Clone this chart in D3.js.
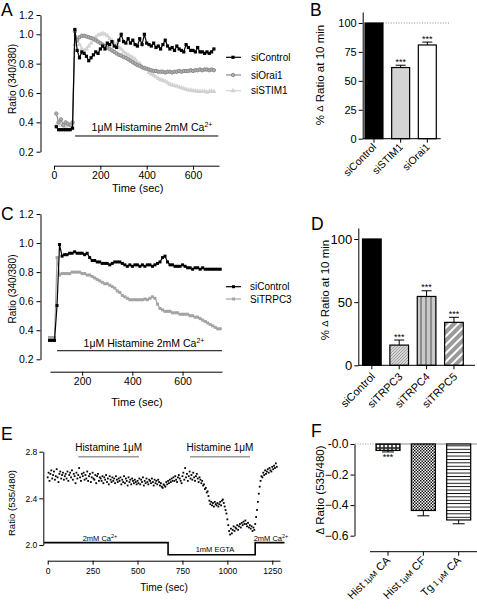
<!DOCTYPE html>
<html><head><meta charset="utf-8">
<script src="https://cdn.jsdelivr.net/npm/d3@7"></script>
<style>
body{margin:0;background:#fff}
svg{display:block}
text{font-family:"Liberation Sans",Arial,Helvetica,sans-serif;fill:#000}
</style>
</head><body>
<svg id="c" width="477" height="610"></svg>
<script>
// ---------------- DATA ----------------
// Panel A: Ratio (340/380) traces, sampled every 10 s from t = 10 s
const timeA_start = 10, timeA_step = 10;
const aControl = [0.37,0.35,0.35,0.35,0.35,0.35,0.35,0.36,1.05,0.89,0.84,0.88,0.87,0.85,0.82,0.84,0.86,0.88,0.87,0.90,0.92,0.90,0.94,0.93,0.95,0.92,0.91,0.96,1.00,0.95,0.94,0.97,0.94,0.96,0.93,0.92,0.97,0.93,1.00,0.94,0.93,0.92,0.94,0.91,0.92,0.90,0.93,0.96,0.92,0.90,0.91,0.89,0.92,0.90,0.89,0.88,0.93,0.91,0.89,0.89,0.88,0.91,0.88,0.88,0.87,0.88,0.87,0.88,0.90];
const aOrai1 = [0.46,0.40,0.42,0.38,0.40,0.39,0.38,0.40,1.03,0.96,0.98,0.99,0.99,0.985,0.98,0.975,0.97,0.96,0.95,0.94,0.93,0.92,0.91,0.90,0.89,0.88,0.87,0.86,0.855,0.845,0.84,0.83,0.82,0.81,0.80,0.79,0.785,0.775,0.77,0.765,0.76,0.755,0.75,0.75,0.745,0.745,0.745,0.74,0.745,0.745,0.74,0.745,0.745,0.75,0.745,0.75,0.75,0.75,0.755,0.75,0.755,0.755,0.76,0.755,0.76,0.76,0.755,0.76,0.755];
const aSTIM1 = [0.38,0.39,0.38,0.38,0.37,0.38,0.38,0.39,0.93,0.95,0.93,0.90,0.89,0.90,0.92,0.94,0.96,0.98,0.995,1.00,1.01,1.00,0.99,0.97,0.96,0.94,0.93,0.91,0.90,0.88,0.87,0.86,0.85,0.84,0.83,0.81,0.80,0.78,0.77,0.76,0.74,0.73,0.72,0.71,0.70,0.69,0.685,0.68,0.67,0.66,0.655,0.65,0.645,0.64,0.635,0.63,0.625,0.62,0.62,0.615,0.615,0.61,0.61,0.61,0.61,0.605,0.61,0.61,0.61];
const aSeriesNames = ["siControl","siOrai1","siSTIM1"];
const aXTicks = [0,200,400,600];
const aYTicks = [0.2,0.4,0.6,0.8,1.0,1.2];

// Panel B
const bCategories = ["siControl","siSTIM1","siOrai1"];
const bValues = [100,61.5,81];
const bErrors = [0,2,2.5];
const bSig = ["","***","***"];
const bYTicks = [0,25,50,75,100];

// Panel C: sampled every 10 s from t = 70 s
const timeC_start = 70, timeC_step = 10;
const cControl = [0.33,0.33,0.33,0.57,0.99,0.91,0.92,0.92,0.93,0.93,0.94,0.93,0.93,0.93,0.92,0.93,0.90,0.88,0.88,0.87,0.87,0.86,0.86,0.86,0.85,0.86,0.87,0.87,0.87,0.86,0.85,0.84,0.85,0.84,0.85,0.85,0.84,0.85,0.84,0.85,0.85,0.84,0.85,0.86,0.87,0.90,0.91,0.87,0.85,0.85,0.84,0.84,0.84,0.85,0.84,0.83,0.83,0.82,0.83,0.83,0.82,0.83,0.82,0.82,0.82,0.82,0.82,0.82,0.82];
const cTRPC3 = [0.35,0.35,0.35,0.90,0.78,0.79,0.79,0.79,0.79,0.80,0.80,0.80,0.80,0.79,0.79,0.78,0.78,0.77,0.76,0.75,0.74,0.73,0.72,0.72,0.71,0.70,0.69,0.67,0.66,0.64,0.63,0.62,0.61,0.61,0.61,0.61,0.61,0.61,0.615,0.61,0.62,0.63,0.62,0.58,0.55,0.54,0.53,0.53,0.53,0.52,0.52,0.52,0.51,0.51,0.51,0.51,0.50,0.50,0.49,0.49,0.48,0.47,0.46,0.45,0.44,0.43,0.42,0.41,0.41];
const cSeriesNames = ["siControl","SiTRPC3"];
const cXTicks = [200,400,600];
const cYTicks = [0.2,0.4,0.6,0.8,1.0,1.2];

// Panel D
const dCategories = ["siControl","siTRPC3","siTRPC4","siTRPC5"];
const dValues = [100,16,54.5,34];
const dErrors = [0,4,4.5,4];
const dSig = ["","***","***","***"];
const dYTicks = [0,50,100];

// Panel E: FRET ratio, sampled every 5 s from t = 0 s
const timeE_start = 0, timeE_step = 5;
const eRatio = [
2.58,2.62,2.55,2.61,2.64,2.57,2.60,2.63,2.56,2.59,2.65,2.58,2.54,2.61,2.63,2.57,2.60,2.62,2.56,2.59,
2.61,2.57,2.63,2.55,2.60,2.62,2.58,2.64,2.56,2.61,2.59,2.53,2.62,2.57,2.60,2.66,2.58,2.55,2.61,2.59,
2.62,2.56,2.60,2.57,2.63,2.55,2.59,2.61,2.54,2.58,2.62,2.57,2.56,2.60,2.53,2.59,2.61,2.55,2.58,2.57,
2.55,2.59,2.53,2.58,2.56,2.60,2.54,2.57,2.52,2.59,2.56,2.54,2.58,2.55,2.57,2.53,2.59,2.56,2.54,2.57,
2.55,2.58,2.52,2.56,2.54,2.59,2.53,2.57,2.55,2.51,2.58,2.54,2.56,2.52,2.57,2.55,2.53,2.56,2.54,2.52,
2.55,2.53,2.57,2.52,2.56,2.54,2.58,2.51,2.55,2.53,2.57,2.54,2.52,2.56,2.55,2.53,2.57,2.54,2.51,2.56,
2.53,2.55,2.52,2.56,2.54,2.51,2.53,2.50,2.49,2.52,2.51,2.50,2.54,2.52,2.55,2.53,2.56,2.54,2.57,2.55,
2.58,2.55,2.59,2.56,2.54,2.58,2.60,2.57,2.55,2.53,2.59,2.62,2.56,2.66,2.58,2.61,2.55,2.59,2.63,2.57,
2.60,2.56,2.62,2.58,2.55,2.59,2.61,2.57,2.54,2.58,2.56,2.53,2.55,2.51,2.52,2.48,2.49,2.45,2.46,2.42,
2.38,2.35,2.37,2.34,2.36,2.33,2.37,2.35,2.34,2.36,2.33,2.35,2.37,2.34,2.38,2.39,2.36,2.33,2.30,2.27,
2.22,2.17,2.12,2.09,2.14,2.10,2.13,2.16,2.12,2.15,2.14,2.17,2.13,2.16,2.18,2.15,2.19,2.17,2.20,2.18,
2.21,2.18,2.16,2.19,2.15,2.17,2.14,2.16,2.12,2.15,2.13,2.18,2.24,2.30,2.37,2.44,2.50,2.55,2.59,2.58,
2.62,2.60,2.64,2.61,2.63,2.65,2.62,2.66,2.64,2.63,2.67,2.65,2.68,2.66,2.70,2.67];
const eXTicks = [0,250,500,750,1000,1250];
const eYTicks = [2.0,2.4,2.8];
const eHistamine = [[170,508],[792,1126]];
const eCondTimes = [-20,670,1155,1318];
const eCondLevels = [2.02,1.917,2.02,2.02];

// Panel F
const fCategories = ["Hist 1μM CA","Hist 1μM CF","Tg 1 μM CA"];
const fValues = [-0.042,-0.435,-0.497];
const fErrors = [0.01,0.035,0.025];
const fSig = ["***","",""];
const fYTicks = [0,-0.2,-0.4,-0.6];

// ---------------- DRAW ----------------
const FONT = '"Liberation Sans",Arial,Helvetica,sans-serif';
const svg = d3.select("#c");
const defs = svg.append("defs");

function pat(id,w,h,build,transform){
  const p = defs.append("pattern").attr("id",id).attr("patternUnits","userSpaceOnUse").attr("width",w).attr("height",h);
  if(transform) p.attr("patternTransform",transform);
  build(p);
}
pat("pT3",3,3,p=>{p.append("rect").attr("width",3).attr("height",3).attr("fill","#d6d6d6");
  p.append("path").attr("d","M0,3L3,0").attr("stroke","#8a8a8a").attr("stroke-width",0.7);});
pat("pT4",5,5,p=>{p.append("rect").attr("width",5).attr("height",5).attr("fill","#c9c9c9");
  p.append("rect").attr("width",2).attr("height",5).attr("fill","#8c8c8c");});
pat("pT5",6,6,p=>{p.append("rect").attr("width",6).attr("height",6).attr("fill","#9a9a9a");
  p.append("rect").attr("width",2).attr("height",6).attr("fill","#fff");},"rotate(45)");
pat("pFA",4,4,p=>{p.append("rect").attr("width",4).attr("height",4).attr("fill","#333");
  p.append("circle").attr("cx",2).attr("cy",2).attr("r",1.3).attr("fill","#fff");});
pat("pFB",3,3,p=>{p.append("rect").attr("width",3).attr("height",3).attr("fill","#fff");
  p.append("rect").attr("width",1.5).attr("height",1.5).attr("fill","#111");
  p.append("rect").attr("x",1.5).attr("y",1.5).attr("width",1.5).attr("height",1.5).attr("fill","#111");});
pat("pFC",4,3.4,p=>{p.append("rect").attr("width",4).attr("height",3.4).attr("fill","#fff");
  p.append("rect").attr("width",4).attr("height",0.9).attr("fill","#000");});

function styleAxis(g,fs){
  g.attr("font-size",fs).attr("font-family",FONT);
  g.selectAll("path,line").attr("stroke","#000").attr("stroke-width",1);
  g.selectAll("text").attr("fill","#000");
  return g;
}
function txt(x,y,s,fs,anchor){
  return svg.append("text").attr("x",x).attr("y",y).attr("font-size",fs).attr("text-anchor",anchor||"start").text(s);
}
function vtxt(cx,cy,s,fs){
  return svg.append("text").attr("transform",`translate(${cx},${cy}) rotate(-90)`).attr("font-size",fs).attr("text-anchor","middle").attr("dy","0.35em").text(s);
}
function caText(x,y,fs,anchor){
  return svg.append("text").attr("x",x).attr("y",y).attr("font-size",fs).attr("text-anchor",anchor||"middle");
}

// Panel letters
[["A",1,15.5],["B",310,16],["C",1,220],["D",311,230],["E",1,440],["F",311,437]].forEach(d=>txt(d[1],d[2],d[0],17.5));

// ---------- Panel A ----------
const xA = d3.scaleLinear().domain([0,712]).range([54,219]);
const yA = d3.scaleLinear().domain([0.2,1.0,1.2]).range([151.7,34.3,15]);
const tA = aControl.map((d,i)=>timeA_start+i*timeA_step);
styleAxis(svg.append("g").attr("transform","translate(40.5,0)")
  .call(d3.axisLeft(yA).tickValues(aYTicks).tickSize(4).tickSizeOuter(0).tickPadding(3).tickFormat(d3.format(".1f"))),10.5);
styleAxis(svg.append("g").attr("transform","translate(0,165.7)")
  .call(d3.axisBottom(xA).tickValues(aXTicks).tickSize(4).tickSizeOuter(0).tickPadding(2)),10.5);
vtxt(12,79,"Ratio (340/380)",10.2);
txt(137.7,192,"Time (sec)",11,"middle");

function drawMarker(g,x,y,color,marker){
  if(marker==="square") g.append("rect").attr("x",x-1.6).attr("y",y-1.6).attr("width",3.2).attr("height",3.2).attr("fill",color);
  else if(marker==="circle") g.append("circle").attr("cx",x).attr("cy",y).attr("r",1.7).attr("fill","#b0b0b0").attr("stroke",color).attr("stroke-width",1);
  else g.append("path").attr("transform",`translate(${x},${y})`).attr("d",d3.symbol(d3.symbolTriangle).size(11)()).attr("fill",color);
}
function traceA(vals,times,xs,ys,color,marker,g){
  const line = d3.line().x((d,i)=>xs(times[i])).y(d=>ys(d));
  g.append("path").attr("d",line(vals)).attr("fill","none").attr("stroke",color).attr("stroke-width",1.2);
  vals.forEach((v,i)=>drawMarker(g,xs(times[i]),ys(v),color,marker));
}
const gA = svg.append("g");
const aColors = {siControl:"#000",siOrai1:"#8a8a8a",siSTIM1:"#d2d2d2"};
const aMarkers = {siControl:"square",siOrai1:"circle",siSTIM1:"triangle"};
traceA(aSTIM1,tA,xA,yA,aColors.siSTIM1,"triangle",gA);
traceA(aOrai1,tA,xA,yA,aColors.siOrai1,"circle",gA);
traceA(aControl,tA,xA,yA,aColors.siControl,"square",gA);
aSeriesNames.forEach((n,i)=>{
  const y=[57.3,75,90.7][i];
  svg.append("line").attr("x1",226).attr("x2",241).attr("y1",y).attr("y2",y).attr("stroke",aColors[n]).attr("stroke-width",1.2);
  drawMarker(svg,233,y,aColors[n],aMarkers[n]);
  txt(251,y,n,10).attr("dy","0.35em");
});
svg.append("line").attr("x1",xA(91)).attr("x2",xA(709)).attr("y1",yA(0.307)).attr("y2",yA(0.307)).attr("stroke","#000");
{const t=caText(152,131,10.5); t.append("tspan").text("1μM Histamine 2mM Ca"); t.append("tspan").attr("font-size",7).attr("dy",-4).text("2+");}

// ---------- Panel B ----------
const xB = d3.scaleBand().domain(bCategories).range([365,436.3]).paddingInner(0.326).paddingOuter(0);
const yB = d3.scaleLinear().domain([0,109.5]).range([138.7,12]);
styleAxis(svg.append("g").attr("transform","translate(362.7,0)")
  .call(d3.axisLeft(yB).tickValues(bYTicks).tickSize(4).tickSizeOuter(0).tickPadding(2)),11);
const bFill = {siControl:"#000",siSTIM1:"#d4d4d4",siOrai1:"#fff"};
svg.append("line").attr("x1",xB("siControl")+xB.bandwidth()).attr("x2",450).attr("y1",yB(100)).attr("y2",yB(100))
  .attr("stroke","#888").attr("stroke-dasharray","1,1.6");
bCategories.forEach((c,i)=>{
  const x=xB(c), w=xB.bandwidth(), cx=x+w/2;
  svg.append("rect").attr("x",x).attr("y",yB(bValues[i])).attr("width",w).attr("height",yB(0)-yB(bValues[i]))
    .attr("fill",bFill[c]).attr("stroke","#000").attr("stroke-width",1.2);
  if(bErrors[i]>0){
    const yt=yB(bValues[i]+bErrors[i]);
    svg.append("line").attr("x1",cx).attr("x2",cx).attr("y1",yB(bValues[i])).attr("y2",yt).attr("stroke","#000");
    svg.append("line").attr("x1",cx-5).attr("x2",cx+5).attr("y1",yt).attr("y2",yt).attr("stroke","#000");
    txt(cx,yt-5,bSig[i],9,"middle").attr("dy","0.5em");
  }
  svg.append("line").attr("x1",cx).attr("x2",cx).attr("y1",yB(0)).attr("y2",yB(0)+4).attr("stroke","#000");
  svg.append("text").attr("transform",`translate(${cx+3},${yB(0)+9}) rotate(-45)`).attr("text-anchor","end").attr("font-size",10.5).text(c);
});
svg.append("line").attr("x1",362.7).attr("x2",440.7).attr("y1",yB(0)).attr("y2",yB(0)).attr("stroke","#000");
{const t=svg.append("text").attr("transform","translate(320,75) rotate(-90)").attr("text-anchor","middle").attr("dy","0.35em").attr("font-size",11.5);
 t.append("tspan").text("% "); t.append("tspan").attr("font-size",9.5).attr("dy",-1).text("Δ"); t.append("tspan").attr("dy",1).text(" Ratio at 10 min");}

// ---------- Panel C ----------
const xC = d3.scaleLinear().domain([72,757]).range([50,222]);
const yC = d3.scaleLinear().domain([0.2,1.2]).range([359.3,214]);
const tC = cControl.map((d,i)=>timeC_start+i*timeC_step);
styleAxis(svg.append("g").attr("transform","translate(40.5,0)")
  .call(d3.axisLeft(yC).tickValues(cYTicks).tickSize(4).tickSizeOuter(0).tickPadding(3).tickFormat(d3.format(".1f"))),10.5);
styleAxis(svg.append("g").attr("transform","translate(0,371.7)")
  .call(d3.axisBottom(xC).tickValues(cXTicks).tickSize(4).tickSizeOuter(0).tickPadding(2)),10.5);
vtxt(12,289,"Ratio (340/380)",10);
txt(137,406,"Time (sec)",11,"middle");
const cColors = {siControl:"#000",SiTRPC3:"#a3a3a3"};
const gC = svg.append("g");
{
  const line = d3.line().x((d,i)=>xC(tC[i])).y(d=>yC(d));
  [["SiTRPC3",cTRPC3],["siControl",cControl]].forEach(([n,vals])=>{
    gC.append("path").attr("d",line(vals)).attr("fill","none").attr("stroke",cColors[n]).attr("stroke-width",1.2);
    vals.forEach((v,i)=>gC.append("rect").attr("x",xC(tC[i])-1.5).attr("y",yC(v)-1.5).attr("width",3).attr("height",3).attr("fill",cColors[n]));
  });
}
cSeriesNames.forEach((n,i)=>{
  const y=[286.7,299][i];
  svg.append("line").attr("x1",226).attr("x2",241).attr("y1",y).attr("y2",y).attr("stroke",cColors[n]).attr("stroke-width",1.2);
  svg.append("rect").attr("x",232).attr("y",y-1.5).attr("width",3).attr("height",3).attr("fill",cColors[n]);
  txt(250,y,n,10).attr("dy","0.35em");
});
svg.append("line").attr("x1",xC(100)).attr("x2",xC(757)).attr("y1",yC(0.259)).attr("y2",yC(0.259)).attr("stroke","#000");
{const t=caText(144,347,10.5); t.append("tspan").text("1μM Histamine 2mM Ca"); t.append("tspan").attr("font-size",7).attr("dy",-4).text("2+");}

// ---------- Panel D ----------
const xD = d3.scaleBand().domain(dCategories).range([362.5,463.3]).paddingInner(0.318).paddingOuter(0);
const yD = d3.scaleLinear().domain([0,108.7]).range([365.3,228]);
styleAxis(svg.append("g").attr("transform","translate(358.3,0)")
  .call(d3.axisLeft(yD).tickValues(dYTicks).tickSize(4).tickSizeOuter(0).tickPadding(2)),13);
const dFill = {siControl:"#000",siTRPC3:"url(#pT3)",siTRPC4:"url(#pT4)",siTRPC5:"url(#pT5)"};
dCategories.forEach((c,i)=>{
  const x=xD(c), w=xD.bandwidth(), cx=x+w/2;
  svg.append("rect").attr("x",x).attr("y",yD(dValues[i])).attr("width",w).attr("height",yD(0)-yD(dValues[i]))
    .attr("fill",dFill[c]).attr("stroke","#000").attr("stroke-width",1.2);
  if(dErrors[i]>0){
    const yt=yD(dValues[i]+dErrors[i]);
    svg.append("line").attr("x1",cx).attr("x2",cx).attr("y1",yD(dValues[i])).attr("y2",yt).attr("stroke","#000");
    svg.append("line").attr("x1",cx-5).attr("x2",cx+5).attr("y1",yt).attr("y2",yt).attr("stroke","#000");
    txt(cx,yt-5,dSig[i],9,"middle").attr("dy","0.5em");
  }
  svg.append("line").attr("x1",cx).attr("x2",cx).attr("y1",yD(0)).attr("y2",yD(0)+4).attr("stroke","#000");
  svg.append("text").attr("transform",`translate(${cx+4},${yD(0)+12}) rotate(-45)`).attr("text-anchor","end").attr("font-size",11).text(c);
});
svg.append("line").attr("x1",358.3).attr("x2",475).attr("y1",yD(0)).attr("y2",yD(0)).attr("stroke","#000");
{const t=svg.append("text").attr("transform","translate(325,290) rotate(-90)").attr("text-anchor","middle").attr("dy","0.35em").attr("font-size",11.5);
 t.append("tspan").text("% "); t.append("tspan").attr("font-size",9.5).attr("dy",-1).text("Δ"); t.append("tspan").attr("dy",1).text(" Ratio at 10 min");}

// ---------- Panel E ----------
const xE = d3.scaleLinear().domain([0,1293]).range([47.7,280]);
const yE = d3.scaleLinear().domain([2.0,2.8]).range([545,451.7]);
styleAxis(svg.append("g").attr("transform","translate(43.3,0)")
  .call(d3.axisLeft(yE).tickValues(eYTicks).tickSize(4).tickSizeOuter(0).tickPadding(2).tickFormat(d3.format(".1f"))),8.5);
styleAxis(svg.append("g").attr("transform","translate(0,560.7)")
  .call(d3.axisBottom(xE).tickValues(eXTicks).tickSize(4).tickSizeOuter(0).tickPadding(3).tickFormat(d3.format("d"))),8.5);
vtxt(11.7,503,"Ratio (535/480)",9.6);
txt(164,591,"Time (sec)",10.2,"middle");
const gE = svg.append("g");
eRatio.forEach((v,i)=>{
  const t=timeE_start+i*timeE_step;
  gE.append("rect").attr("x",xE(t)-0.9).attr("y",yE(v)-0.9).attr("width",1.8).attr("height",1.8).attr("fill","#000");
});
eHistamine.forEach(([a,b])=>{
  svg.append("line").attr("x1",xE(a)).attr("x2",xE(b)).attr("y1",yE(2.756)).attr("y2",yE(2.756)).attr("stroke","#9a9a9a").attr("stroke-width",1.5);
  txt(xE((a+b)/2),451,"Histamine 1μM",10,"middle");
});
{
  const pts = eCondTimes.map((t,i)=>[t,eCondLevels[i]]);
  const line = d3.line().x(d=>xE(d[0])).y(d=>yE(d[1])).curve(d3.curveStepAfter);
  svg.append("path").attr("d",line(pts)).attr("fill","none").attr("stroke","#000").attr("stroke-width",1.6);
}
{const t=caText(100,541,7.5); t.append("tspan").text("2mM Ca"); t.append("tspan").attr("font-size",5.5).attr("dy",-3).text("2+");}
txt(215,552,"1mM EGTA",7.5,"middle");
{const t=caText(271,541,7.5); t.append("tspan").text("2mM Ca"); t.append("tspan").attr("font-size",5.5).attr("dy",-3).text("2+");}

// ---------- Panel F ----------
const xF = d3.scaleBand().domain(fCategories).range([376,470.7]).paddingInner(0.32).paddingOuter(0);
const yF = d3.scaleLinear().domain([-0.6,0]).range([535.7,444]);
styleAxis(svg.append("g").attr("transform","translate(354.5,0)")
  .call(d3.axisLeft(yF).tickValues(fYTicks).tickSize(4).tickSizeOuter(0).tickPadding(2).tickFormat(d=>d===0?"-0.0":d3.format(".1f")(d))),12);
svg.append("line").attr("x1",355).attr("x2",xF(fCategories[0])).attr("y1",yF(0)).attr("y2",yF(0)).attr("stroke","#999").attr("stroke-dasharray","1,1.5");
svg.append("line").attr("x1",xF(fCategories[0])).attr("x2",477).attr("y1",yF(0)).attr("y2",yF(0)).attr("stroke","#8a8a8a");
const fFill = ["url(#pFA)","url(#pFB)","url(#pFC)"];
fCategories.forEach((c,i)=>{
  const x=xF(c), w=xF.bandwidth(), cx=x+w/2;
  const ye=yF(fValues[i]-fErrors[i]);
  svg.append("line").attr("x1",cx).attr("x2",cx).attr("y1",yF(fValues[i])).attr("y2",ye).attr("stroke","#000");
  svg.append("line").attr("x1",cx-6).attr("x2",cx+6).attr("y1",ye).attr("y2",ye).attr("stroke","#000");
  svg.append("rect").attr("x",x).attr("y",yF(0)).attr("width",w).attr("height",yF(fValues[i])-yF(0))
    .attr("fill",fFill[i]).attr("stroke","#000").attr("stroke-width",1.2);
  if(fSig[i]) txt(cx,ye+8,fSig[i],9,"middle");
  svg.append("line").attr("x1",cx).attr("x2",cx).attr("y1",551.7).attr("y2",555.7).attr("stroke","#000");
  const parts = c.match(/^(.*?)(\s?1\s?μM)(.*)$/);
  const t = svg.append("text").attr("transform",`translate(${cx+3},${561}) rotate(-45)`).attr("text-anchor","end").attr("font-size",11);
  t.append("tspan").text(parts[1]); t.append("tspan").attr("font-size",8).text(parts[2]); t.append("tspan").text(parts[3]);
});
svg.append("line").attr("x1",370).attr("x2",477).attr("y1",551.7).attr("y2",551.7).attr("stroke","#000");
{const t=svg.append("text").attr("transform","translate(320,490) rotate(-90)").attr("text-anchor","middle").attr("dy","0.35em").attr("font-size",11.5);
 t.append("tspan").attr("font-size",10).text("Δ"); t.append("tspan").text(" Ratio (535/480)");}
</script>
</body></html>
